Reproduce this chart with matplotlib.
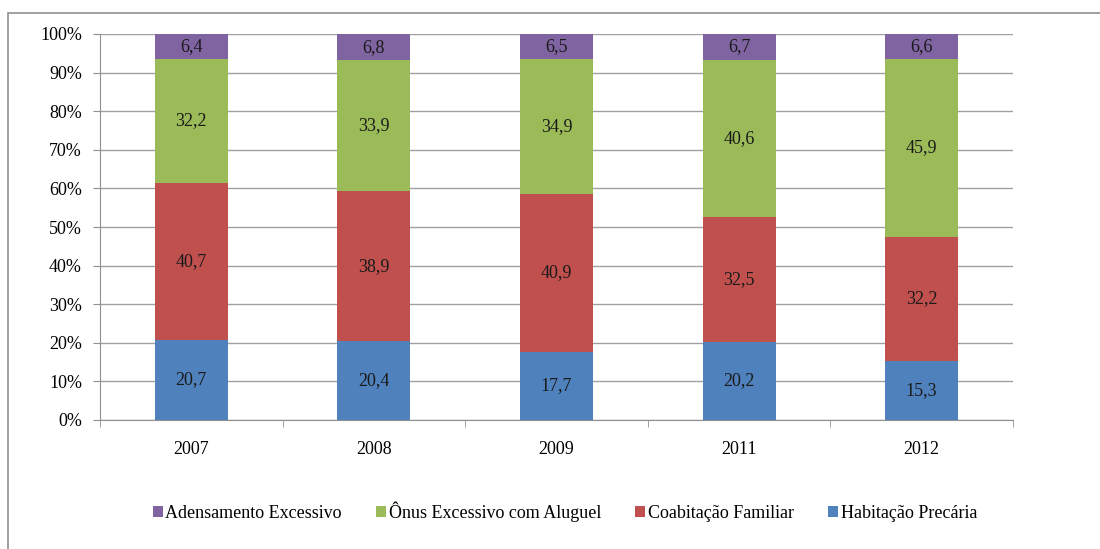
import matplotlib.pyplot as plt
from matplotlib.patches import Rectangle
import numpy as np

years = ['2007', '2008', '2009', '2011', '2012']
habitacao = [20.7, 20.4, 17.7, 20.2, 15.3]
coabitacao = [40.7, 38.9, 40.9, 32.5, 32.2]
onus = [32.2, 33.9, 34.9, 40.6, 45.9]
adensamento = [6.4, 6.8, 6.5, 6.7, 6.6]

series = [
    ('Habitação Precária', habitacao, '#4F81BD'),
    ('Coabitação Familiar', coabitacao, '#C0504D'),
    ('Ônus Excessivo com Aluguel', onus, '#9BBB59'),
    ('Adensamento Excessivo', adensamento, '#8064A2'),
]

plt.rcParams['font.family'] = ['Liberation Serif', 'DejaVu Serif']

fig = plt.figure(figsize=(11, 5.49), dpi=100)
fig.patches.append(Rectangle((8 / 1100, -0.1), 1.2, (549 - 13) / 549 + 0.1,
                             transform=fig.transFigure, fill=False,
                             edgecolor='#909090', linewidth=1.2))
ax = fig.add_axes([100 / 1100, 129 / 549, 913 / 1100, 386 / 549])

x = np.arange(len(years))
totals = np.sum([s[1] for s in series], axis=0)
bottom = np.zeros(len(years))
handles = {}
for name, vals, color in series:
    pct = np.array(vals) / totals * 100
    b = ax.bar(x, pct, 0.4, bottom=bottom, color=color, label=name, zorder=3)
    handles[name] = b
    for xi, yb, h, v in zip(x, bottom, pct, vals):
        ax.text(xi, yb + h / 2, ('%.1f' % v).replace('.', ','), ha='center',
                va='center', fontsize=13, color='#1a1a1a', zorder=4)
    bottom += pct

ax.set_xlim(-0.5, len(years) - 0.5)
ax.set_ylim(0, 100)
ax.set_yticks(np.arange(0, 101, 10))
ax.set_yticklabels(['%d%%' % v for v in range(0, 101, 10)], fontsize=13)
ax.set_xticks(x)
ax.set_xticklabels(years, fontsize=13)
ax.set_xticks(np.arange(-0.5, len(years), 1), minor=True)
ax.tick_params(axis='x', which='major', length=0, pad=15)
ax.tick_params(axis='x', which='minor', length=5, color='#909090')
ax.tick_params(axis='y', length=5, color='#909090', pad=8)
ax.grid(axis='y', color='#a0a0a0', linewidth=1, zorder=0)
for sp in ['top', 'right']:
    ax.spines[sp].set_visible(False)
for sp in ['left', 'bottom']:
    ax.spines[sp].set_color('#909090')

order = ['Adensamento Excessivo', 'Ônus Excessivo com Aluguel',
         'Coabitação Familiar', 'Habitação Precária']
fig.legend([handles[n] for n in order], order, loc='center',
           bbox_to_anchor=(565 / 1100, (549 - 512) / 549), ncol=4,
           frameon=False, fontsize=13, handlelength=0.55, handleheight=0.55,
           handletextpad=0.15, columnspacing=1.9)

fig.savefig('out.png', dpi=100)
